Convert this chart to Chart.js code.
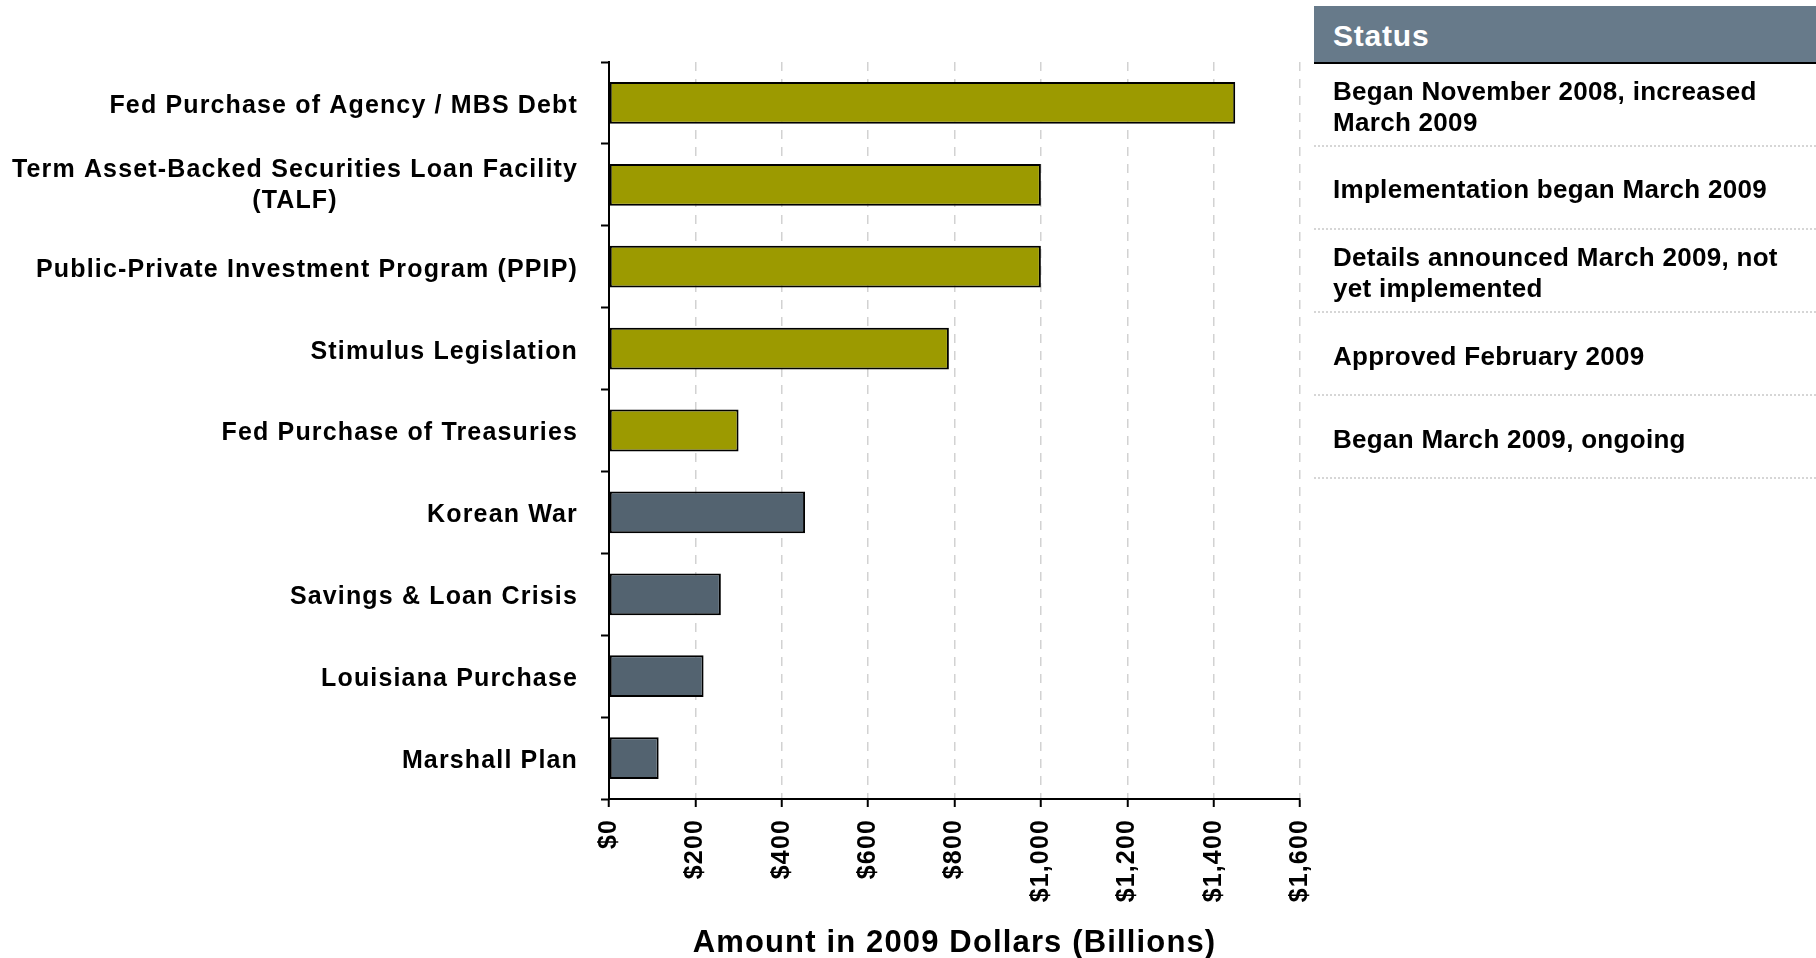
<!DOCTYPE html>
<html>
<head>
<meta charset="utf-8">
<title>Amount in 2009 Dollars (Billions)</title>
<script src="https://cdn.jsdelivr.net/npm/chart.js@4/dist/chart.umd.min.js"></script>
<style>
  html, body { margin: 0; padding: 0; background: #ffffff; }
  #wrap { position: relative; width: 1816px; height: 958px; overflow: hidden; }
  #chart { position: absolute; left: 0; top: 0; }
  #status {
    position: absolute; left: 1314px; top: 6px; width: 502px;
    font-family: "Liberation Sans", Arial, sans-serif; font-weight: 700; color: #000;
  }
  #status .head {
    height: 56px; background: #677a8a; color: #fff; font-size: 30px; letter-spacing: 0.8px;
    line-height: 60px; padding-left: 19px; border-bottom: 2px solid #000; box-sizing: content-box;
  }
  #status .row {
    height: 81.1px; border-bottom: 2px dotted #d6d6d6; padding-left: 19px;
    display: flex; flex-direction: column; justify-content: center;
    font-size: 26px; line-height: 31.5px; letter-spacing: 0.3px; white-space: nowrap;
  }
  #status .row > div { position: relative; top: 2.5px; }
</style>
</head>
<body>
<div id="wrap">
  <canvas id="chart" width="1816" height="958"></canvas>
  <div id="status"></div>
</div>
<script>
// Programs and historical outlays, in billions of 2009 dollars
const categories = [
  ['Fed Purchase of Agency / MBS Debt'],
  ['Term Asset-Backed Securities Loan Facility', '(TALF)'],
  ['Public-Private Investment Program (PPIP)'],
  ['Stimulus Legislation'],
  ['Fed Purchase of Treasuries'],
  ['Korean War'],
  ['Savings & Loan Crisis'],
  ['Louisiana Purchase'],
  ['Marshall Plan']
];
const amounts = [1450, 1000, 1000, 787, 300, 454, 259, 219, 115];
const groups = ['current', 'current', 'current', 'current', 'current',
                'historical', 'historical', 'historical', 'historical'];

// Status notes for the current programs (one entry per row, one string per line)
const statusTitle = 'Status';
const statusNotes = [
  ['Began November 2008, increased', 'March 2009'],
  ['Implementation began March 2009'],
  ['Details announced March 2009, not', 'yet implemented'],
  ['Approved February 2009'],
  ['Began March 2009, ongoing']
];

// Value axis
const xTickValues = [0, 200, 400, 600, 800, 1000, 1200, 1400, 1600];
const xTickLabels = ['$0', '$200', '$400', '$600', '$800', '$1,000', '$1,200', '$1,400', '$1,600'];
const xAxisTitle = 'Amount in 2009 Dollars (Billions)';

const groupColors = { current: '#9c9a00', historical: '#536370' };
const FONT = '"Liberation Sans", Arial, sans-serif';

// Status table
const statusEl = document.getElementById('status');
const head = document.createElement('div');
head.className = 'head';
head.textContent = statusTitle;
statusEl.appendChild(head);
statusNotes.forEach(lines => {
  const row = document.createElement('div');
  row.className = 'row';
  lines.forEach(t => {
    const d = document.createElement('div');
    d.textContent = t;
    row.appendChild(d);
  });
  statusEl.appendChild(row);
});

// Wider letter spacing for all canvas text
const letterSpacingPlugin = {
  id: 'letterSpacing',
  beforeUpdate(chart) { chart.ctx.letterSpacing = '1.15px'; },
  beforeDraw(chart) { chart.ctx.letterSpacing = '1.15px'; }
};

// Category labels: block right-aligned against the axis, lines centred within the block
const categoryLabelPlugin = {
  id: 'categoryLabels',
  afterDraw(chart) {
    const y = chart.scales.y;
    const ctx = chart.ctx;
    const rightX = y.right - 8 - 23;
    const lineH = 31;
    ctx.save();
    ctx.letterSpacing = '1.15px';
    ctx.font = '700 25px ' + FONT;
    ctx.fillStyle = '#000';
    ctx.textAlign = 'center';
    ctx.textBaseline = 'middle';
    categories.forEach((lines, i) => {
      const cy = y.getPixelForValue(i) + (lines.length > 1 ? 1 : 3);
      const w = Math.max(...lines.map(l => ctx.measureText(l).width));
      const cx = rightX - w / 2;
      lines.forEach((l, j) => {
        ctx.fillText(l, cx, cy + (j - (lines.length - 1) / 2) * lineH);
      });
    });
    ctx.restore();
  }
};

new Chart(document.getElementById('chart'), {
  type: 'bar',
  data: {
    labels: categories.map(c => c.join(' ')),
    datasets: [{
      data: amounts,
      backgroundColor: groups.map(g => groupColors[g]),
      borderColor: '#000',
      borderWidth: 2,
      borderSkipped: false,
      barPercentage: 0.51,
      categoryPercentage: 1
    }]
  },
  options: {
    indexAxis: 'y',
    responsive: false,
    animation: false,
    layout: { padding: { top: 62, right: 516, bottom: 0, left: 0 } },
    plugins: { legend: { display: false }, tooltip: { enabled: false } },
    scales: {
      x: {
        type: 'linear',
        min: 0,
        max: 1600,
        afterBuildTicks(scale) { scale.ticks = xTickValues.map(v => ({ value: v })); },
        afterFit(scale) { scale.height = 159; scale.paddingLeft = 0; scale.paddingRight = 0; },
        grid: {
          color: '#d2d2d2',
          lineWidth: 1.5,
          drawTicks: true,
          tickLength: 8,
          tickColor: '#000',
          tickWidth: 2,
          tickBorderDash: []
        },
        border: { display: true, color: '#000', width: 2, dash: [9, 8] },
        ticks: {
          minRotation: 90,
          maxRotation: 90,
          padding: 12,
          color: '#000',
          font: { family: FONT, size: 25, weight: '700' },
          callback: (v, i) => xTickLabels[i]
        },
        title: {
          display: true,
          text: xAxisTitle,
          color: '#000',
          font: { family: FONT, size: 31, weight: '700', lineHeight: 0.95 },
          padding: { top: 0, bottom: 0 }
        }
      },
      y: {
        type: 'category',
        afterFit(scale) { scale.width = 609; scale.paddingTop = 0; scale.paddingBottom = 0; },
        grid: {
          drawOnChartArea: false,
          drawTicks: true,
          tickLength: 8,
          tickColor: '#000',
          tickWidth: 2,
          color: '#000'
        },
        border: { display: true, color: '#000', width: 2 },
        ticks: { display: false }
      }
    }
  },
  plugins: [letterSpacingPlugin, categoryLabelPlugin]
});
</script>
</body>
</html>
